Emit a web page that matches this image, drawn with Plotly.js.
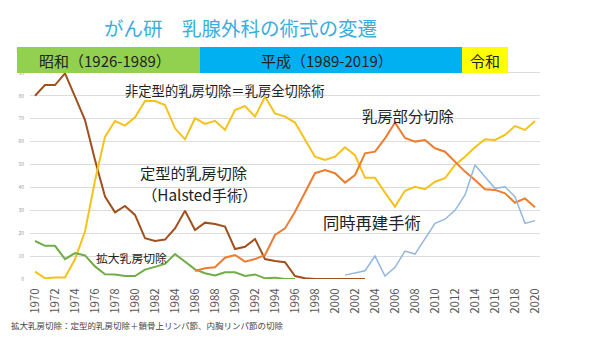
<!DOCTYPE html>
<html><head><meta charset="utf-8">
<script src="https://cdn.plot.ly/plotly-3.0.1.min.js"></script>
<style>body{margin:0;background:#fff}#c{width:600px;height:355px}</style>
</head><body><div id="c"></div>
<script>
const years = [];
for (let y = 1970; y <= 2020; y++) years.push(y);

const halstedYears = years.filter(y => y <= 2003);
const halsted = [80,84.7,84.7,89.8,79.6,69.4,52,36,29.1,31.9,28,17.8,16.6,17.2,22.1,29.8,21.4,24.6,24,22.9,13.1,14.1,17.5,8.7,7.9,7.3,1.3,0.3,0,0,0,0,0,0];

const modified = [3.2,0.3,0.7,0.7,8.6,20.7,43,62.1,69,67,70.6,77.7,77.7,76,65.8,61,70.2,67.7,69.1,65.1,73.8,75.5,70.9,79.6,72.3,70.9,68.3,60.7,53.4,52,53.4,57.5,54.1,44.2,44.2,37.7,31.6,38.5,40.3,39.2,42.5,44,49.8,53.4,57.5,61,60.7,62.9,66.8,65.1,69];

const extendedYears = years.filter(y => y <= 1996);
const extended = [16.6,14.5,14.5,8.7,11.3,10.3,5.5,2.1,2,1.3,1.3,4.1,5.3,6.6,10.9,7.6,4.2,2.5,1.5,2.9,2.9,1.3,2,0.3,0.6,0,0];

const partialYears = years.filter(y => y >= 1986);
const partial = [3.5,4.7,5.1,9.3,10.5,7.6,8.7,10.5,19.2,22.1,29.4,38.1,46.2,47.6,46.2,42.1,45.4,54.9,55.6,61.4,68.3,61.6,60,60.7,57.1,55.6,51.2,46.9,43.2,39.2,38.9,37.4,33.3,35.2,31.3];

const reconYears = years.filter(y => y >= 2001);
const recon = [1.7,2.8,3.6,10,1.3,5.1,12.2,10.9,17.5,24.3,26.1,30,36.7,49.8,44.7,39.6,40.3,35.9,24.3,25.5];

const xTicks = years.filter(y => y % 2 === 0);
const yTicks = [0,10,20,30,40,50,60,70,80,90,100];

const F = '"Noto Sans CJK JP", "Noto Sans", sans-serif';
const L = 30, R = 540, T = 50, B = 279;
const px = X => (X - L) / (R - L);
const py = Y => (B - Y) / (B - T);

const traces = [
  {x: halstedYears, y: halsted, mode: 'lines', line: {color: '#a0501e', width: 2}},
  {x: years, y: modified, mode: 'lines', line: {color: '#f5c21b', width: 2}},
  {x: extendedYears, y: extended, mode: 'lines', line: {color: '#70ad47', width: 2}},
  {x: partialYears, y: partial, mode: 'lines', line: {color: '#ed7d31', width: 2}},
  {x: reconYears, y: recon, mode: 'lines', line: {color: '#93b7dc', width: 1.5}}
];

const band = [
  {x0: 17, x1: 200, color: '#92d050'},
  {x0: 200, x1: 462, color: '#00b0f0'},
  {x0: 462, x1: 508, color: '#ffff00'}
];
const shapes = band.map(b => ({type: 'rect', xref: 'paper', yref: 'paper', x0: px(b.x0), x1: px(b.x1), y0: py(73), y1: py(47), fillcolor: b.color, line: {width: 0}, layer: 'above'}));

function ann(text, X, Y, size, color, xanchor) {
  return {text: text, xref: 'paper', yref: 'paper', x: px(X), y: py(Y), xanchor: xanchor || 'left', yanchor: 'middle', showarrow: false, font: {family: F, size: size, color: color || '#222'}};
}

const annotations = [
  ann('がん研　乳腺外科の術式の変遷', 240, 27, 19.5, '#3aaee0', 'center'),
  ann('昭和（1926-1989）', 105, 60, 15, '#222', 'center'),
  ann('平成（1989-2019）', 327, 60, 15, '#222', 'center'),
  ann('令和', 485, 60, 15, '#222', 'center'),
  ann('非定型的乳房切除＝乳房全切除術', 123, 90, 13.3),
  ann('乳房部分切除', 360, 115, 15.3),
  ann('定型的乳房切除', 138, 172, 15.3),
  ann('（Halsted手術）', 140, 194, 15.3),
  ann('同時再建手術', 321, 222, 16.3),
  ann('拡大乳房切除', 94, 257, 11.8),
  ann('拡大乳房切除：定型的乳房切除＋鎖骨上リンパ節、内胸リンパ節の切除', 9, 325, 8.5, '#444')
];

const layout = {
  width: 600, height: 355,
  margin: {l: L, r: 600 - R, t: T, b: 355 - B},
  paper_bgcolor: '#fff', plot_bgcolor: '#fff',
  showlegend: false,
  xaxis: {range: [1969.5, 2020.5], tickvals: xTicks, ticktext: xTicks.map(String), tickangle: -90, showgrid: false, zeroline: false, showline: false, ticks: '', ticklabelstandoff: 6, tickfont: {family: F, size: 11.5, color: '#595959'}},
  yaxis: {range: [0, 100], tickvals: yTicks, ticktext: yTicks.map(String), showgrid: true, gridcolor: '#dcdcdc', gridwidth: 1, zeroline: false, showline: false, ticks: '', ticklabelstandoff: 5, tickfont: {family: F, size: 5, color: '#999'}},
  shapes: shapes,
  annotations: annotations
};

Plotly.newPlot('c', traces, layout, {displayModeBar: false, staticPlot: true});
</script></body></html>
